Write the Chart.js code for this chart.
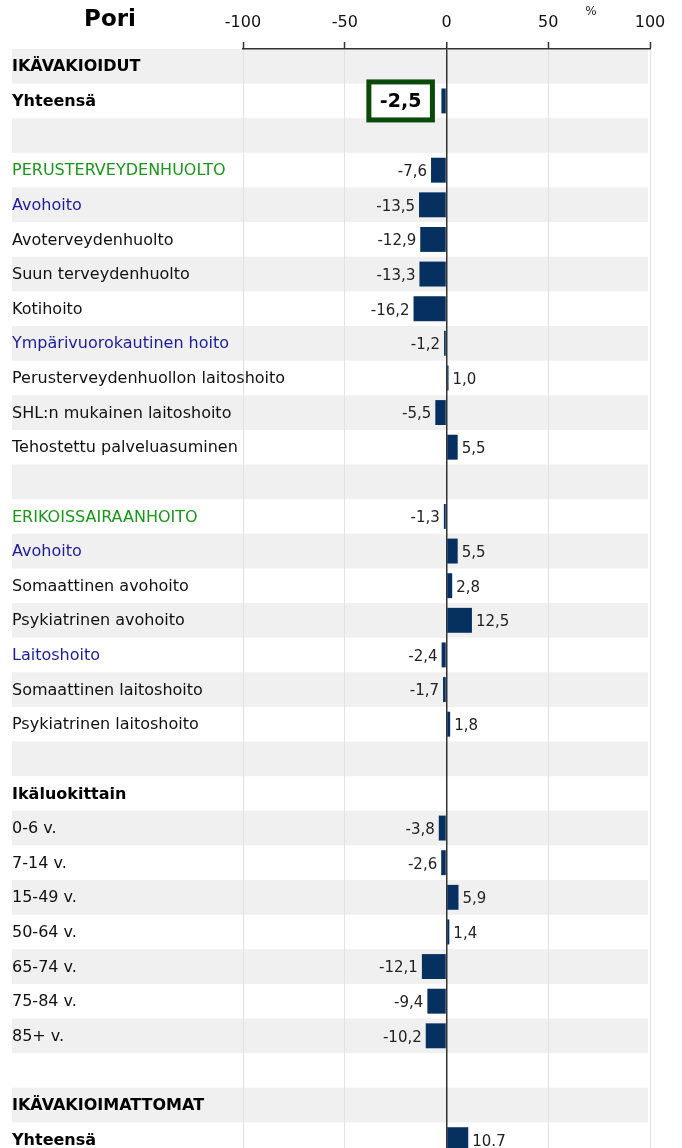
<!DOCTYPE html>
<html>
<head>
<meta charset="utf-8">
<script src="https://cdn.jsdelivr.net/npm/chart.js@4"></script>
<style>
  html, body { margin: 0; padding: 0; background: #fff; overflow: hidden; }
  #wrap { position: relative; width: 682px; height: 1148px; overflow: hidden; }
</style>
</head>
<body>
<div id="wrap"><canvas id="poriChart" width="682" height="1157"></canvas></div>
<script>
// rivien nimet (tyhjä = väli)
var categories = [
    'IKÄVAKIOIDUT', 'Yhteensä', '',
    'PERUSTERVEYDENHUOLTO', 'Avohoito', 'Avoterveydenhuolto', 'Suun terveydenhuolto',
    'Kotihoito', 'Ympärivuorokautinen hoito', 'Perusterveydenhuollon laitoshoito',
    'SHL:n mukainen laitoshoito', 'Tehostettu palveluasuminen', '',
    'ERIKOISSAIRAANHOITO', 'Avohoito', 'Somaattinen avohoito', 'Psykiatrinen avohoito',
    'Laitoshoito', 'Somaattinen laitoshoito', 'Psykiatrinen laitoshoito', '',
    'Ikäluokittain', '0-6 v.', '7-14 v.', '15-49 v.', '50-64 v.', '65-74 v.',
    '75-84 v.', '85+ v.', '',
    'IKÄVAKIOIMATTOMAT', 'Yhteensä'
];

// muutos %
var changes = [
    null, -2.5, null,
    -7.6, -13.5, -12.9, -13.3, -16.2, -1.2, 1.0, -5.5, 5.5, null,
    -1.3, 5.5, 2.8, 12.5, -2.4, -1.7, 1.8, null,
    null, -3.8, -2.6, 5.9, 1.4, -12.1, -9.4, -10.2, null,
    null, 10.7
];

// rivityypit: h = otsikko (lihavoitu), g = vihreä pääryhmä, b = sininen alaryhmä, n = tavallinen
var rowTypes = [
    'h', 'h', 'n',
    'g', 'b', 'n', 'n', 'n', 'b', 'n', 'n', 'n', 'n',
    'g', 'b', 'n', 'n', 'b', 'n', 'n', 'n',
    'h', 'n', 'n', 'n', 'n', 'n', 'n', 'n', 'n',
    'h', 'h'
];

var xTicks = [-100, -50, 0, 50, 100];
var highlightRow = 1;      // korostettu arvo laatikossa
var unadjustedRow = 31;    // ikävakioimaton yhteensä (piste desimaalierottimena)

var FONT = 'DejaVu Sans';
var rowColors = { h: '#000', g: '#179917', b: '#1c1ca0', n: '#111' };

function formatValue(v, i) {
    var s = v.toFixed(1);
    return i === unadjustedRow ? s : s.replace('.', ',');
}

//- Taustaraidat -
var stripePlugin = {
    id: 'stripes',
    beforeDraw: function (chart) {
        var ctx = chart.ctx, y = chart.scales.y, x = chart.scales.x;
        var step = y.getPixelForValue(1) - y.getPixelForValue(0);
        ctx.save();
        ctx.fillStyle = '#f0f0f0';
        for (var i = 0; i < categories.length; i += 2) {
            var c = y.getPixelForValue(i);
            ctx.fillRect(12, c - step / 2, x.right - 14, step);
        }
        ctx.restore();
    }
};

//- Rivien nimet, otsikko, yksikkö ja arvot -
var labelPlugin = {
    id: 'labels',
    afterDatasetsDraw: function (chart) {
        var ctx = chart.ctx;
        var yScale = chart.scales.y;
        var meta = chart.getDatasetMeta(0);
        ctx.save();
        ctx.textBaseline = 'middle';

        categories.forEach(function (name, i) {
            var t = rowTypes[i];
            ctx.font = (t === 'h' ? 'bold ' : '') + '16px ' + FONT;
            ctx.fillStyle = rowColors[t];
            ctx.textAlign = 'left';
            ctx.fillText(name, 12, yScale.getPixelForValue(i) + 1);
        });

        ctx.fillStyle = '#000';
        ctx.font = 'bold 23px ' + FONT;
        ctx.textAlign = 'center';
        ctx.fillText('Pori', 110, 20);
        ctx.font = '12px ' + FONT;
        ctx.fillStyle = '#222';
        ctx.fillText('%', 591, 12);

        meta.data.forEach(function (bar, i) {
            var v = changes[i];
            if (v === null) return;
            var txt = formatValue(v, i);
            if (i === highlightRow) {
                ctx.font = 'bold 19px ' + FONT;
                var w = ctx.measureText(txt).width;
                var right = Math.min(bar.x, bar.base) - 9;
                var bw = w + 22;
                var bx = right - bw, by = bar.y - 19;
                ctx.fillStyle = '#fff';
                ctx.fillRect(bx, by, bw, 38);
                ctx.lineWidth = 5;
                ctx.strokeStyle = '#0a4a0a';
                ctx.strokeRect(bx, by, bw, 38);
                ctx.fillStyle = '#000';
                ctx.textAlign = 'center';
                ctx.fillText(txt, bx + bw / 2, bar.y + 1);
                return;
            }
            ctx.font = '15px ' + FONT;
            ctx.fillStyle = '#222';
            if (v < 0) {
                ctx.textAlign = 'right';
                ctx.fillText(txt, bar.x - 4, bar.y + 2);
            } else {
                ctx.textAlign = 'left';
                ctx.fillText(txt, bar.x + 4, bar.y + 2);
            }
        });
        ctx.restore();
    }
};

var poriChart = new Chart(document.getElementById('poriChart'), {
    type: 'bar',
    data: {
        labels: categories,
        datasets: [{
            data: changes,
            backgroundColor: '#06305f',
            barPercentage: 0.72,
            categoryPercentage: 1.0
        }]
    },
    options: {
        indexAxis: 'y',
        responsive: false,
        animation: false,
        layout: { padding: { left: 12, right: 32, top: 0, bottom: 0 } },
        plugins: {
            legend: { display: false },
            tooltip: { enabled: false }
        },
        scales: {
            x: {
                position: 'top',
                min: -100,
                max: 100,
                afterBuildTicks: function (scale) {
                    scale.ticks = xTicks.map(function (v) { return { value: v }; });
                },
                afterFit: function (scale) { scale.height = 49; },
                ticks: {
                    color: '#111',
                    font: { family: FONT, size: 16 },
                    padding: 10
                },
                grid: {
                    color: function (ctx) {
                        return ctx.tick && ctx.tick.value === 0 ? '#333' : '#e2e2e2';
                    },
                    lineWidth: function (ctx) {
                        return ctx.tick && ctx.tick.value === 0 ? 1.5 : 1;
                    },
                    tickColor: '#333',
                    tickLength: 7,
                    tickWidth: 1.5
                },
                border: { display: true, color: '#333', width: 1.5 }
            },
            y: {
                afterFit: function (scale) { scale.width = 231; },
                grid: { display: false, drawTicks: false },
                border: { display: false },
                ticks: { display: false, autoSkip: false }
            }
        }
    },
    plugins: [stripePlugin, labelPlugin]
});
</script>
</body>
</html>
